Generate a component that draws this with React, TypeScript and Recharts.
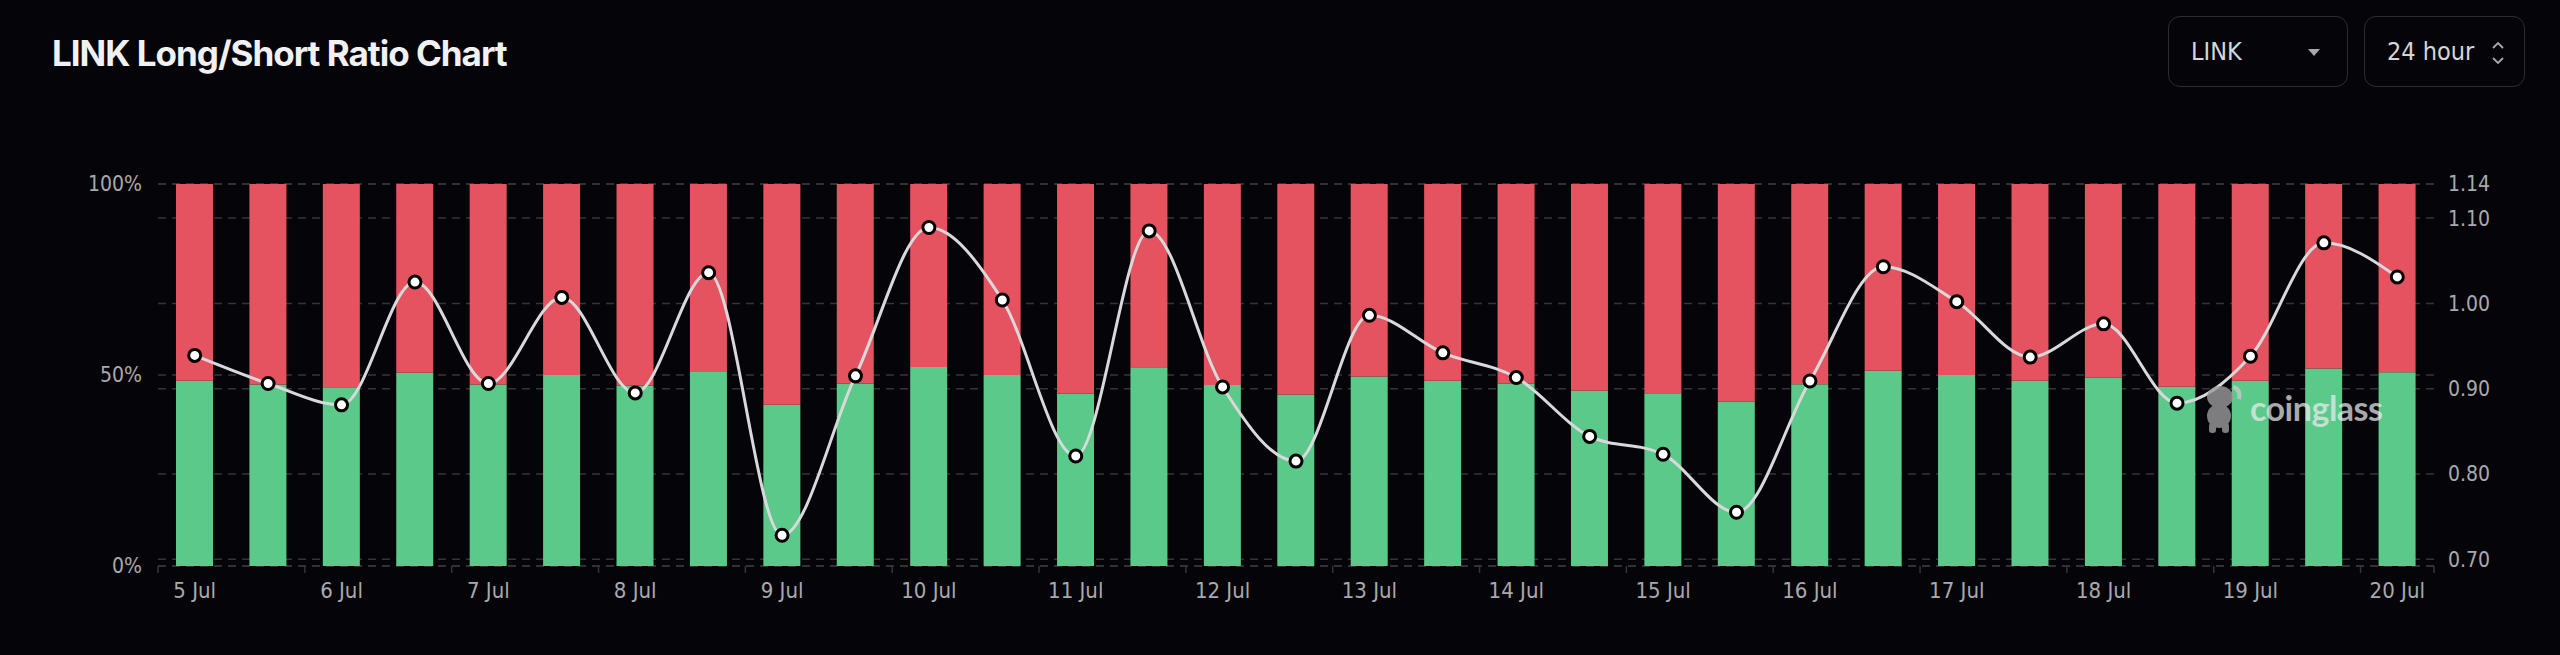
import React from 'react';
import { ComposedChart, Bar, Line, XAxis, YAxis, CartesianGrid } from 'recharts';

const dates = [
  '5 Jul', '5 Jul 12:00', '6 Jul', '6 Jul 12:00', '7 Jul', '7 Jul 12:00', '8 Jul', '8 Jul 12:00',
  '9 Jul', '9 Jul 12:00', '10 Jul', '10 Jul 12:00', '11 Jul', '11 Jul 12:00', '12 Jul', '12 Jul 12:00',
  '13 Jul', '13 Jul 12:00', '14 Jul', '14 Jul 12:00', '15 Jul', '15 Jul 12:00', '16 Jul', '16 Jul 12:00',
  '17 Jul', '17 Jul 12:00', '18 Jul', '18 Jul 12:00', '19 Jul', '19 Jul 12:00', '20 Jul',
];

// long accounts, % of total
const longPct = [
  48.5, 47.5, 46.8, 50.6, 47.5, 50.0, 47.2, 50.8, 42.2, 47.8, 52.1, 50.0, 45.1, 52.0, 47.4, 44.9,
  49.6, 48.5, 47.8, 45.9, 45.2, 43.0, 47.6, 51.1, 50.0, 48.5, 49.3, 46.9, 48.5, 51.7, 50.7,
];

// short accounts, % of total
const shortPct = [
  51.5, 52.5, 53.2, 49.4, 52.5, 50.0, 52.8, 49.2, 57.8, 52.2, 47.9, 50.0, 54.9, 48.0, 52.6, 55.1,
  50.4, 51.5, 52.2, 54.1, 54.8, 57.0, 52.4, 48.9, 50.0, 51.5, 50.7, 53.1, 51.5, 48.3, 49.3,
];

const lsRatio = [
  0.939, 0.906, 0.881, 1.025, 0.906, 1.007, 0.895, 1.036, 0.728, 0.915, 1.089, 1.004, 0.821, 1.085, 0.902, 0.815,
  0.986, 0.942, 0.913, 0.844, 0.823, 0.755, 0.909, 1.043, 1.002, 0.937, 0.976, 0.883, 0.938, 1.071, 1.031,
];

const pctTicks = [0, 50, 100];
const ratioTicks = [0.7, 0.8, 0.9, 1.0, 1.1, 1.14];

const data = dates.map((d, i) => ({
  date: d,
  long: longPct[i],
  short: shortPct[i],
  ratio: lsRatio[i],
}));

const W = 2560;
const H = 655;
const LEFT_W = 158;
const RIGHT_W = 126;
const BAND = (W - LEFT_W - RIGHT_W) / dates.length;

const BG = '#050509';
const GRID = '#34343a';
const LABEL = '#a9a9ad';
const AXIS_FONT = "'DejaVu Sans Condensed', 'Liberation Sans Narrow', Roboto, sans-serif";

const DateTick = (props: any) => {
  const { x, y, payload, index } = props;
  const last = index === dates.length - 1 || payload.index === dates.length - 1;
  return (
    <g>
      <line x1={x - BAND / 2} x2={x - BAND / 2} y1={y - 8} y2={y - 1} stroke={GRID} strokeWidth={1.5} />
      {last && <line x1={x + BAND / 2} x2={x + BAND / 2} y1={y - 8} y2={y - 1} stroke={GRID} strokeWidth={1.5} />}
      <text x={x} y={y + 24} textAnchor="middle" fill={LABEL} fontSize={22} fontFamily={AXIS_FONT}>
        {payload.value}
      </text>
    </g>
  );
};

const Select = ({ left, width, label, arrows }: { left: number; width: number; label: string; arrows: 'caret' | 'updown' }) => (
  <div
    style={{
      position: 'absolute',
      left,
      top: 16,
      width,
      height: 71,
      boxSizing: 'border-box',
      border: '1.5px solid #2c2c32',
      borderRadius: 12,
      color: '#d6d6da',
      fontFamily: AXIS_FONT,
      fontSize: 25,
      display: 'flex',
      alignItems: 'center',
      paddingLeft: 22,
    }}
  >
    {label}
    {arrows === 'caret' ? (
      <div
        style={{
          position: 'absolute',
          left: 139,
          top: 32,
          width: 0,
          height: 0,
          borderLeft: '6px solid transparent',
          borderRight: '6px solid transparent',
          borderTop: '7px solid #a9a9ad',
        }}
      />
    ) : (
      <svg style={{ position: 'absolute', left: 126, top: 24 }} width={14} height={24}>
        <polyline points="2,7 7,2 12,7" fill="none" stroke="#a9a9ad" strokeWidth={1.8} />
        <polyline points="2,17 7,22 12,17" fill="none" stroke="#a9a9ad" strokeWidth={1.8} />
      </svg>
    )}
  </div>
);

export default function App() {
  return (
    <div style={{ position: 'fixed', left: 0, top: 0, width: W, height: H, background: BG, overflow: 'hidden' }}>
      <div
        style={{
          position: 'absolute',
          left: 52,
          top: 30,
          color: '#f1f1f3',
          fontFamily: 'Inter, sans-serif',
          fontWeight: 700,
          fontSize: 35,
          letterSpacing: -1,
          lineHeight: '46px',
        }}
      >
        LINK Long/Short Ratio Chart
      </div>

      <Select left={2168} width={180} label="LINK" arrows="caret" />
      <Select left={2364} width={161} label="24 hour" arrows="updown" />

      <ComposedChart width={W} height={H} data={data} margin={{ top: 184, right: 0, bottom: 0, left: 0 }}>
        <CartesianGrid yAxisId="pct" vertical={false} stroke={GRID} strokeDasharray="8 6" strokeWidth={1.5} />
        <CartesianGrid yAxisId="ratio" vertical={false} stroke={GRID} strokeDasharray="8 6" strokeWidth={1.5} />
        <XAxis
          dataKey="date"
          interval={1}
          height={89}
          axisLine={false}
          tickLine={false}
          tick={<DateTick />}
        />
        <YAxis
          yAxisId="pct"
          width={LEFT_W}
          domain={[0, 100]}
          ticks={pctTicks}
          tickFormatter={(v: number) => `${v}%`}
          axisLine={false}
          tickLine={false}
          tickMargin={10}
          tick={{ fill: LABEL, fontSize: 21, fontFamily: AXIS_FONT }}
        />
        <YAxis
          yAxisId="ratio"
          orientation="right"
          width={RIGHT_W}
          domain={[0.692, 1.14]}
          ticks={ratioTicks}
          tickFormatter={(v: number) => v.toFixed(2)}
          allowDataOverflow
          axisLine={false}
          tickLine={false}
          tickMargin={8}
          tick={{ fill: LABEL, fontSize: 21, fontFamily: AXIS_FONT }}
        />
        <Bar yAxisId="pct" dataKey="long" stackId="ls" fill="#5bc98a" barSize={37} isAnimationActive={false} />
        <Bar yAxisId="pct" dataKey="short" stackId="ls" fill="#e55360" barSize={37} isAnimationActive={false} />
        <Line
          yAxisId="ratio"
          type="monotone"
          dataKey="ratio"
          stroke="#d9d9dc"
          strokeWidth={3}
          dot={{ r: 6, fill: '#ffffff', stroke: '#000000', strokeWidth: 3 }}
          activeDot={false}
          isAnimationActive={false}
        />
      </ComposedChart>

      {/* watermark */}
      <div style={{ position: 'absolute', left: 2200, top: 383, display: 'flex', alignItems: 'center', pointerEvents: 'none' }}>
        <svg width={46} height={52} style={{ opacity: 0.8 }}>
          <ellipse cx={20} cy={14} rx={13} ry={11} fill="#9c9c9e" />
          <ellipse cx={19} cy={33} rx={12} ry={12} fill="#9c9c9e" />
          <rect x={9} y={40} width={7} height={10} rx={3} fill="#9c9c9e" />
          <rect x={22} y={40} width={7} height={10} rx={3} fill="#9c9c9e" />
          <path d="M33 4 q8 2 6 12" fill="none" stroke="#c8c8ca" strokeWidth={4} />
        </svg>
        <span
          style={{
            fontFamily: 'Lato, sans-serif',
            fontWeight: 700,
            fontSize: 34,
            letterSpacing: -0.5,
            color: 'rgba(235,235,238,0.72)',
            marginLeft: 4,
            marginTop: -4,
          }}
        >
          coinglass
        </span>
      </div>
    </div>
  );
}
